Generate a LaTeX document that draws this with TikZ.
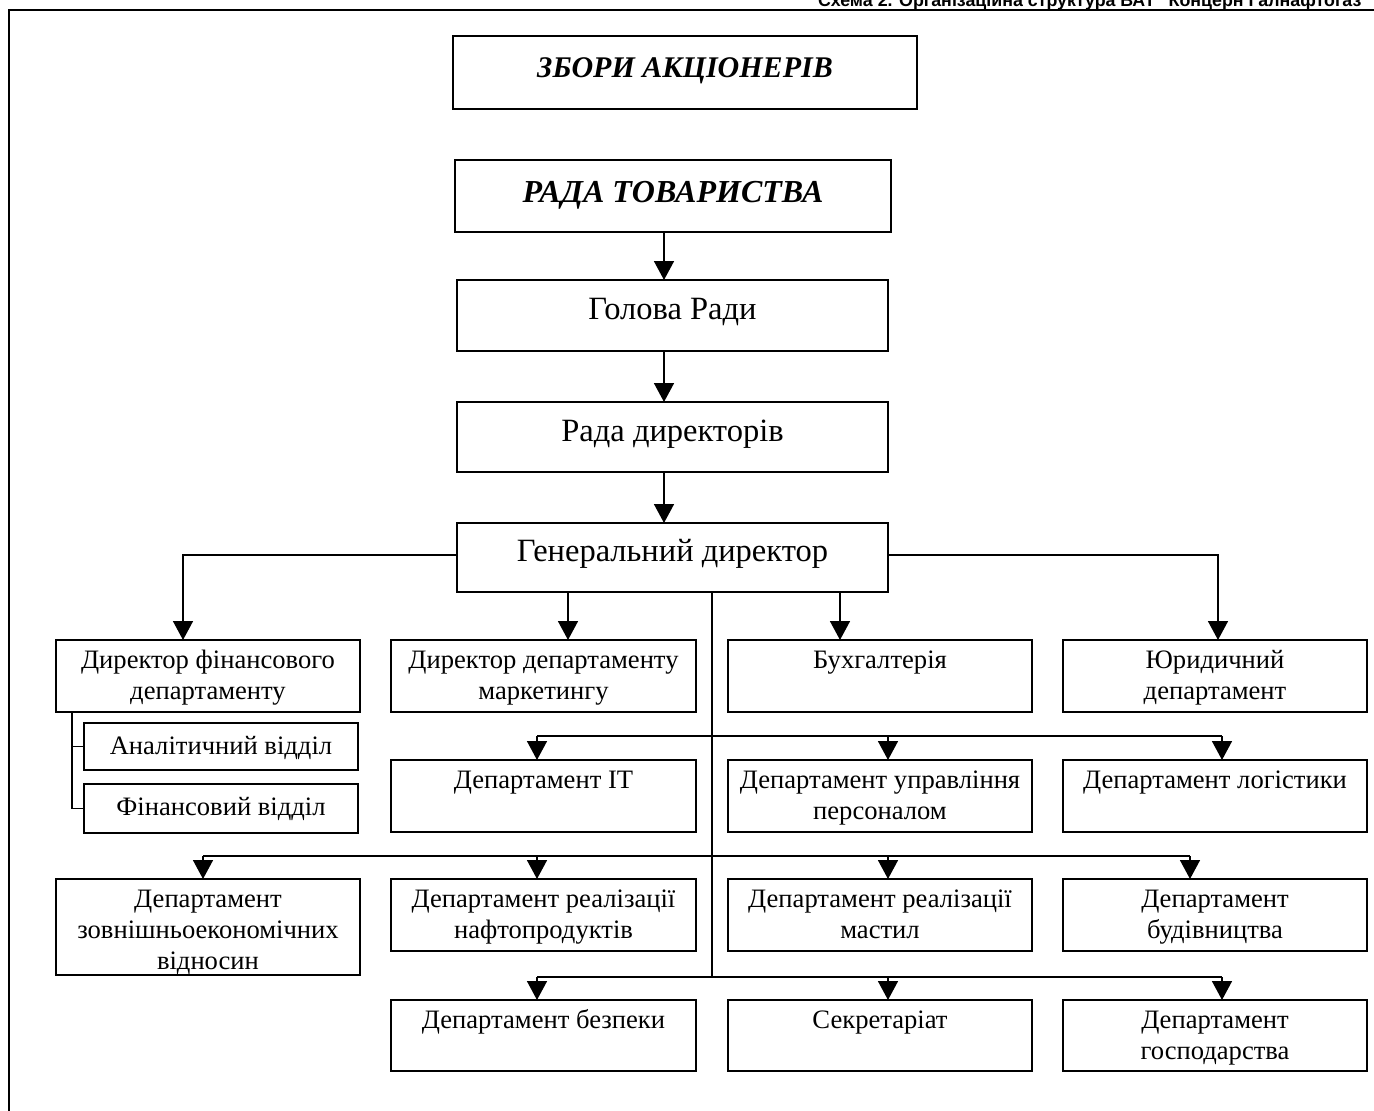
\documentclass[tikz,border=0pt]{standalone}
\usepackage{fontspec}
\setmainfont{Liberation Serif}
\newfontfamily\titlefont{Liberation Sans}
\usetikzlibrary{arrows.meta}
\tikzset{
  box/.style={draw, line width=1.6pt, inner sep=0pt, outer sep=0pt},
  lbl/.style={inner sep=0pt, align=center},
  rowfont/.style={font=\fontsize{26.6}{31}\selectfont},
  topfont/.style={font=\fontsize{32.5}{36}\selectfont},
  boldfont/.style={font=\fontsize{32}{36}\selectfont\bfseries\itshape},
  boldfontb/.style={font=\fontsize{30}{36}\selectfont\bfseries\itshape},
  conn/.style={line width=1.6pt},
  arr/.style={conn, -{Triangle[width=20pt,length=19pt]}},
}
\newcommand{\orgbox}[8]{%
  \node[box, minimum width={#4pt-#2pt}, minimum height={#5pt-#3pt}] (#1) at ({(#2+#4)/2},{(#3+#5)/2}) {};
  \node[lbl, #7, anchor=north] (#1-t) at ({(#2+#4)/2},{#3+#6-30}) {\rule{0pt}{30pt}#8};
}
\begin{document}
\begin{tikzpicture}[x=1pt,y=-1pt]
\clip (0,0) rectangle (1374,1111);
\fill[white] (0,0) rectangle (1374,1111);
% title and frame
\node[anchor=base east, inner sep=0pt, font=\titlefont\bfseries\fontsize{17.8}{20}\selectfont] (title) at (1370,6) {Схема 2. Організаційна структура ВАТ "Концерн Галнафтогаз"};
\draw[line width=2.6pt] (1374,10) -- (9,10) -- (9,1111);
% top chain
\orgbox{b1}{453}{36}{917}{109}{41}{boldfontb}{ЗБОРИ АКЦІОНЕРІВ}
\orgbox{b2}{455}{160}{891}{232}{42}{boldfont}{РАДА ТОВАРИСТВА}
\orgbox{gh}{457}{280}{888}{351}{39}{topfont}{Голова Ради}
\orgbox{rd}{457}{402}{888}{472}{39}{topfont}{Рада директорів}
\orgbox{gd}{457}{523}{888}{592}{38}{topfont}{Генеральний директор}
% row 1
\orgbox{fin}{56}{640}{360}{712}{28}{rowfont}{Директор фінансового\\департаменту}
\orgbox{mk}{391}{640}{696}{712}{28}{rowfont}{Директор департаменту\\маркетингу}
\orgbox{bh}{728}{640}{1032}{712}{28}{rowfont}{Бухгалтерія}
\orgbox{jur}{1063}{640}{1367}{712}{28}{rowfont}{Юридичний\\департамент}
% sub boxes
\orgbox{an}{84}{723}{358}{770}{31}{rowfont}{Аналітичний відділ}
\orgbox{fv}{84}{784}{358}{833}{31}{rowfont}{Фінансовий відділ}
% row 2
\orgbox{it}{391}{760}{696}{832}{28}{rowfont}{Департамент IT}
\orgbox{ps}{728}{760}{1032}{832}{28}{rowfont}{Департамент управління\\персоналом}
\orgbox{lg}{1063}{760}{1367}{832}{28}{rowfont}{Департамент логістики}
% row 3
\orgbox{zv}{56}{879}{360}{975}{28}{rowfont}{Департамент\\зовнішньоекономічних\\відносин}
\orgbox{nf}{391}{879}{696}{951}{28}{rowfont}{Департамент реалізації\\нафтопродуктів}
\orgbox{ms}{728}{879}{1032}{951}{28}{rowfont}{Департамент реалізації\\мастил}
\orgbox{bd}{1063}{879}{1367}{951}{28}{rowfont}{Департамент\\будівництва}
% row 4
\orgbox{bz}{391}{1000}{696}{1071}{28}{rowfont}{Департамент безпеки}
\orgbox{sk}{728}{1000}{1032}{1071}{28}{rowfont}{Секретаріат}
\orgbox{gs}{1063}{1000}{1367}{1071}{28}{rowfont}{Департамент\\господарства}
% helper coordinates
\coordinate (xm) at (664,0);
\coordinate (yh) at (0,555);
\coordinate (xl) at (183,0);
\coordinate (xr) at (1218,0);
\coordinate (xa) at (568,0);
\coordinate (xb) at (840,0);
\coordinate (xt) at (712,0);
\coordinate (xs) at (72,0);
\coordinate (b2L) at (537,736);
\coordinate (b2M) at (888,736);
\coordinate (b2R) at (1222,736);
\coordinate (b3A) at (203,856);
\coordinate (b3B) at (537,856);
\coordinate (b3C) at (888,856);
\coordinate (b3D) at (1190,856);
\coordinate (b4L) at (537,977);
\coordinate (b4M) at (888,977);
\coordinate (b4R) at (1222,977);
% chain arrows
\draw[arr] (b2.south -| xm) -- (gh.north -| xm);
\draw[arr] (gh.south -| xm) -- (rd.north -| xm);
\draw[arr] (rd.south -| xm) -- (gd.north -| xm);
% from general director
\draw[arr] (gd.west |- yh) -| (fin.north -| xl);
\draw[arr] (gd.east |- yh) -| (jur.north -| xr);
\draw[arr] (gd.south -| xa) -- (mk.north -| xa);
\draw[arr] (gd.south -| xb) -- (bh.north -| xb);
\draw[conn] (gd.south -| xt) -- (xt |- b4L);
% sub departments
\draw[conn] (fin.south -| xs) |- (an.west);
\draw[conn] (fin.south -| xs) |- (fv.west);
% bus 2
\draw[conn] (b2L) -- (b2R);
\draw[arr] (b2L) -- (it.north -| b2L);
\draw[arr] (b2M) -- (ps.north -| b2M);
\draw[arr] (b2R) -- (lg.north -| b2R);
% bus 3
\draw[conn] (b3A) -- (b3D);
\draw[arr] (b3A) -- (zv.north -| b3A);
\draw[arr] (b3B) -- (nf.north -| b3B);
\draw[arr] (b3C) -- (ms.north -| b3C);
\draw[arr] (b3D) -- (bd.north -| b3D);
% bus 4
\draw[conn] (b4L) -- (b4R);
\draw[arr] (b4L) -- (bz.north -| b4L);
\draw[arr] (b4M) -- (sk.north -| b4M);
\draw[arr] (b4R) -- (gs.north -| b4R);
\end{tikzpicture}
\end{document}
